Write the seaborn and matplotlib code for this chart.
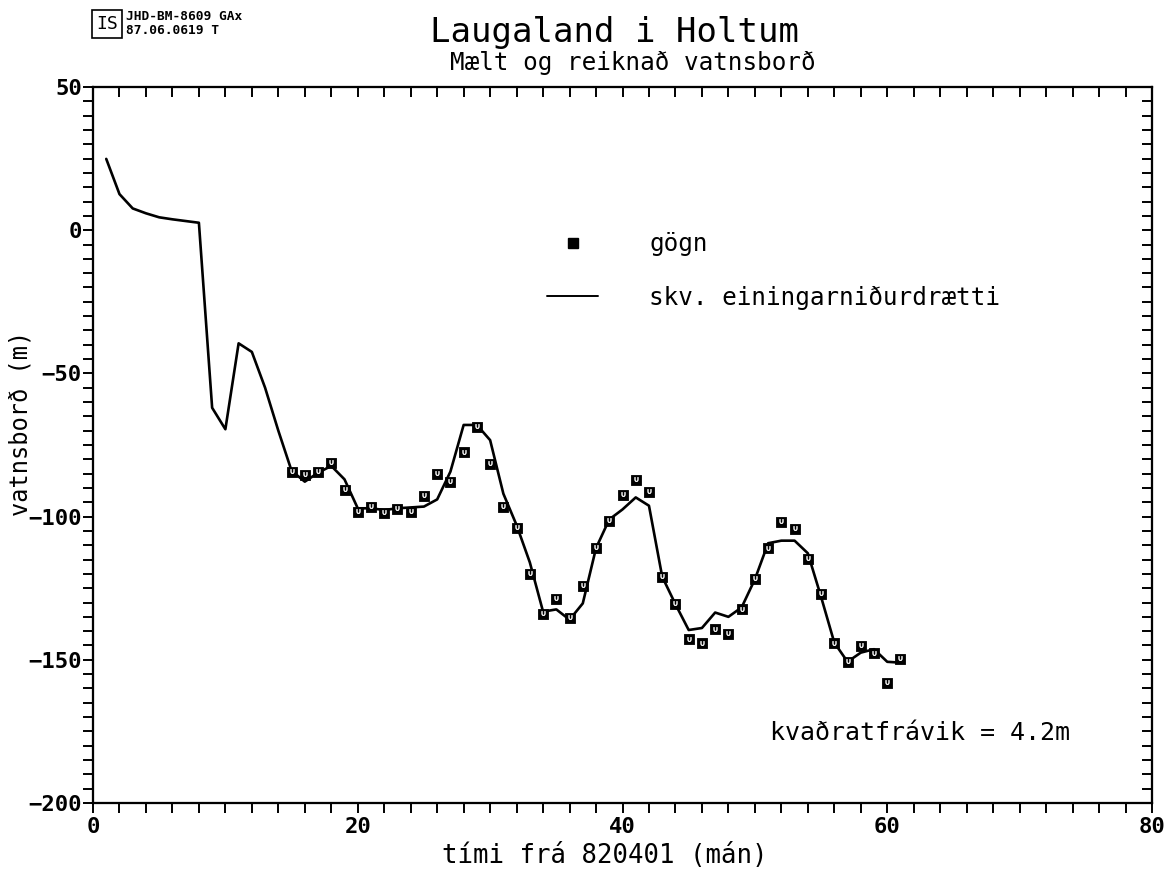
import numpy as np
import pandas as pd
import matplotlib
matplotlib.use("Agg")
import matplotlib.pyplot as plt
from matplotlib.ticker import MultipleLocator
from matplotlib.lines import Line2D
from matplotlib.patches import Rectangle
import seaborn as sns

# ---------------- data ----------------
obs_month = list(range(15, 62))
obs_level = [-84.5, -85.5, -84.5, -81.2, -90.8, -98.3, -96.5, -98.6, -97.3, -98.5,
             -92.9, -85.1, -87.8, -77.6, -68.6, -81.6, -96.5, -104.1, -120.0, -134.0,
             -128.7, -135.3, -124.2, -110.9, -101.5, -92.5, -87.2, -91.4, -121.0, -130.6,
             -142.9, -144.3, -139.4, -141.1, -132.4, -121.9, -111.1, -102.0, -104.4, -114.9,
             -127.0, -144.3, -150.7, -145.1, -147.8, -158.2, -149.8]

model_month = list(range(1, 62))
model_level = [24.9, 12.6, 7.6, 5.9, 4.5, 3.8, 3.2, 2.6, -62.0, -69.5,
               -39.5, -42.5, -55.0, -70.0, -84.0, -87.8, -84.7, -82.3, -87.0, -97.1,
               -97.1, -97.7, -97.1, -96.8, -96.5, -94.0, -84.3, -68.0, -68.0, -73.3,
               -92.0, -103.0, -116.0, -133.2, -132.4, -136.0, -130.3, -111.0, -101.0, -97.5,
               -93.3, -96.2, -121.0, -130.6, -139.6, -138.9, -133.5, -135.0, -131.7, -121.9,
               -109.3, -108.4, -108.4, -112.8, -128.0, -144.0, -150.7, -147.5, -146.3, -150.7,
               -151.0]

title = "Laugaland i Holtum"
subtitle = "Mælt og reiknað vatnsborð"
header1 = "JHD-BM-8609 GAx"
header2 = "87.06.0619 T"
label_obs = "gögn"
label_model = "skv. einingarniðurdrætti"
xlabel = "tími frá 820401 (mán)"
ylabel = "vatnsborð (m)"
rms_text = "kvaðratfrávik = 4.2m"

obs_df = pd.DataFrame({"month": obs_month, "level": obs_level})
model_df = pd.DataFrame({"month": model_month, "level": model_level})

# ---------------- style ----------------
sns.set_theme(style="ticks")
plt.rcParams["font.family"] = ["DejaVu Sans Mono", "DejaVu Sans"]
for key in ["text.color", "axes.labelcolor", "xtick.color", "ytick.color", "axes.edgecolor"]:
    plt.rcParams[key] = "black"
plt.rcParams["axes.linewidth"] = 1.5

fig = plt.figure(figsize=(11.64, 8.69), dpi=100)
rect = [93 / 1164, 1 - 803 / 869, (1152 - 93) / 1164, (803 - 87) / 869]
ax = fig.add_axes(rect)

sns.lineplot(data=model_df, x="month", y="level", ax=ax, color="black",
             linewidth=1.9, legend=False)
sns.scatterplot(data=obs_df, x="month", y="level", ax=ax, marker="s", s=55,
                color="black", edgecolor="black", linewidth=0.6, legend=False, zorder=3)
ax.scatter(obs_df["month"], obs_df["level"] + 0.3, marker="$\\cup$", s=10,
           color="white", linewidths=0.4, zorder=4)

xlim = (0, 80)
ylim = (-200, 50)
ax.set_xlim(*xlim)
ax.set_ylim(*ylim)
ax.xaxis.set_major_locator(MultipleLocator(20))
ax.xaxis.set_minor_locator(MultipleLocator(2))
ax.yaxis.set_major_locator(MultipleLocator(50))
ax.yaxis.set_minor_locator(MultipleLocator(5))
ax.tick_params(axis="both", which="both", direction="out", length=7, width=1.4,
               color="black", labelsize=16, pad=1, top=False, right=False)
ax.tick_params(axis="x", which="both", pad=3)
for lab in ax.get_xticklabels() + ax.get_yticklabels():
    lab.set_fontweight("bold")

for s in ax.spines.values():
    s.set_color("black")
    s.set_linewidth(1.5)

# top ticks pointing inward
axt = ax.twiny()
axt.set_xlim(*xlim)
axt.xaxis.set_major_locator(MultipleLocator(20))
axt.xaxis.set_minor_locator(MultipleLocator(2))
axt.tick_params(axis="x", which="both", direction="in", length=7, width=1.4,
                top=True, bottom=False, labeltop=False, labelbottom=False, color="black")
axt.tick_params(axis="y", which="both", left=False, right=False,
                labelleft=False, labelright=False)
# right ticks pointing inward
axr = ax.twinx()
axr.set_ylim(*ylim)
axr.yaxis.set_major_locator(MultipleLocator(50))
axr.yaxis.set_minor_locator(MultipleLocator(5))
axr.tick_params(axis="y", which="both", direction="in", length=7, width=1.4,
                right=True, left=False, labelright=False, labelleft=False, color="black")
axr.tick_params(axis="x", which="both", top=False, bottom=False,
                labeltop=False, labelbottom=False)
for a in (axt, axr):
    for s in a.spines.values():
        s.set_linewidth(1.5)
        s.set_color("black")

ax.set_xlabel(xlabel, fontsize=18.5)
ax.set_ylabel(ylabel, fontsize=17)
ax.xaxis.set_label_coords(0.4835, -0.056)
ax.yaxis.set_label_coords(-0.057, 0.53)

handles = [Line2D([], [], linestyle="none", marker="s", markersize=6.5,
                  color="black"),
           Line2D([], [], color="black", linewidth=1.4)]
leg = ax.legend(handles, [label_obs, label_model], loc="upper left",
                bbox_to_anchor=(0.4287, 0.797), frameon=False, fontsize=17.5,
                handlelength=2.1, handletextpad=2.1, labelspacing=1.2,
                borderpad=0, borderaxespad=0)

ax.text(0.639, 0.098, rms_text, transform=ax.transAxes, fontsize=18,
        ha="left", va="center")

fig.text(0.528, 0.963, title, fontsize=24.5, ha="center", va="center")
fig.text(0.5434, 0.927, subtitle, fontsize=17.5, ha="center", va="center")
fig.text(126 / 1164, 1 - 16 / 869, header1, fontsize=9.3, fontweight="bold",
         ha="left", va="center")
fig.text(126 / 1164, 1 - 31 / 869, header2, fontsize=9.3, fontweight="bold",
         ha="left", va="center")
fig.patches.append(Rectangle((92 / 1164, 1 - 38 / 869), 30 / 1164, 28 / 869,
                             transform=fig.transFigure, fill=False,
                             edgecolor="black", linewidth=1.2))
fig.text(107 / 1164, 1 - 24 / 869, "IS", fontsize=13, ha="center", va="center")

fig.savefig("out.png", dpi=100, facecolor="white")
